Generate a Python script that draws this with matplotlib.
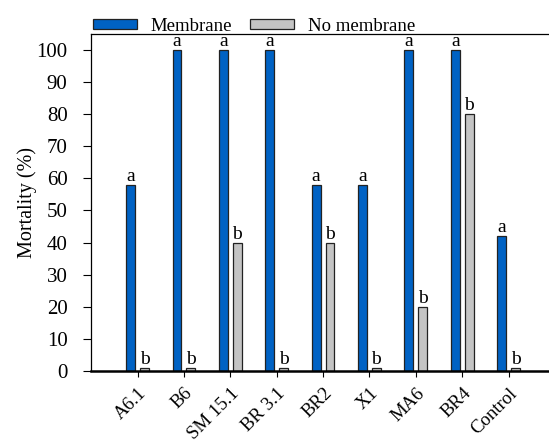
import numpy as np
import matplotlib.pyplot as plt
from matplotlib.patches import Patch

plt.rcParams['font.family'] = ['Liberation Serif', 'DejaVu Serif']

isolates = ["A6.1", "B6", "SM 15.1", "BR 3.1", "BR2", "X1", "MA6", "BR4", "Control"]
membrane = [58, 100, 100, 100, 58, 58, 100, 100, 42]
no_membrane = [1, 1, 40, 1, 40, 1, 20, 80, 1]
letters_membrane = ["a"] * 9
letters_no_membrane = ["b"] * 9

blue = "#0062c4"
grey = "#c4c4c4"

fig = plt.figure(figsize=(5.49, 4.41), dpi=100)
ax = fig.add_axes([0.166, 0.159, 0.834, 0.764])

x = np.arange(len(isolates))
width = 0.19
off = 0.15
ax.bar(x - off, membrane, width, color=blue, edgecolor="#222222", linewidth=0.9)
ax.bar(x + off, no_membrane, width, color=grey, edgecolor="#222222", linewidth=0.9)

# significance letters above each bar
for xi, v, t in zip(x, membrane, letters_membrane):
    ax.text(xi - off, v, t, ha="center", va="bottom", fontsize=14)
for xi, v, t in zip(x, no_membrane, letters_no_membrane):
    ax.text(xi + off, v, t, ha="center", va="bottom", fontsize=14)

ax.set_xlim(-1.0, 8.87)
ax.set_ylim(0, 105)
ax.set_yticks(range(0, 101, 10))
ax.set_xticks(x)
ax.set_xticklabels(isolates, rotation=45, ha="right", rotation_mode="anchor", fontsize=13.5)
ax.tick_params(axis="y", labelsize=15, direction="out", length=6, width=0.8, pad=11)
ax.tick_params(axis="x", direction="out", length=4, width=0.8, pad=6)
ax.set_ylabel("Mortality (%)", fontsize=14.5)
ax.yaxis.set_label_coords(-0.118, 0.5)

ax.spines["right"].set_visible(False)
ax.spines["bottom"].set_linewidth(1.8)
ax.spines["left"].set_linewidth(0.9)
ax.spines["top"].set_linewidth(0.9)

handles = [Patch(facecolor=blue, edgecolor="#222222", linewidth=0.9, label="Membrane"),
           Patch(facecolor=grey, edgecolor="#222222", linewidth=0.9, label="No membrane")]
ax.legend(handles=handles, loc="center left", bbox_to_anchor=(0.004, 1.023), ncol=2,
          frameon=False, fontsize=13.5, handlelength=2.35, handleheight=0.48,
          handletextpad=0.7, columnspacing=1.0, borderaxespad=0, borderpad=0)

fig.savefig("out.png", dpi=100)
